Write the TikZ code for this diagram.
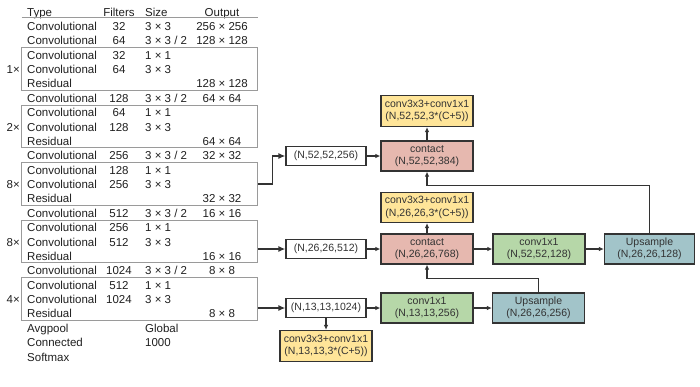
\documentclass[tikz,border=0pt]{standalone}
\usepackage{fontspec}
\setmainfont{Liberation Sans}
\usetikzlibrary{arrows.meta,calc}
\definecolor{ylw}{HTML}{FFE599}
\definecolor{pnk}{HTML}{E6B8AF}
\definecolor{grn}{HTML}{B6D7A8}
\definecolor{blu}{HTML}{A2C4C9}
\definecolor{ink}{HTML}{333333}
\definecolor{tgray}{HTML}{9A9A9A}
\newcommand\yrowy[1]{16+14.375*#1}
\newcommand\yrow[5]{%
  \node[tt,anchor=base west] (ty#1) at (27,{\yrowy{#1}}) {#2};
  \if\relax\detokenize{#3}\relax\else\node[tt,anchor=base] (tf#1) at (119,{\yrowy{#1}}) {#3};\fi
  \if\relax\detokenize{#4}\relax\else\node[tt,anchor=base west] (ts#1) at (145,{\yrowy{#1}}) {#4};\fi
  \if\relax\detokenize{#5}\relax\else\node[tt,anchor=base] (to#1) at (222,{\yrowy{#1}}) {#5};\fi
}
\begin{document}
\begin{tikzpicture}[x=1pt,y=-1pt,
  tt/.style={inner sep=0pt, font=\fontsize{11.5}{13}\selectfont, text=black!88},
  blk/.style={draw=ink, line width=1.2pt, minimum width=92pt, minimum height=30pt, inner sep=0pt, align=center, font=\fontsize{10.5}{12.5}\selectfont, text=ink},
  sml/.style={draw=ink, line width=1.2pt, fill=white, minimum width=80pt, minimum height=19pt, inner sep=0pt, font=\fontsize{10.5}{12.5}\selectfont, text=ink},
  tbox/.style={draw=tgray, line width=0.9pt, minimum width=236pt, minimum height=42.75pt, inner sep=0pt},
  arr/.style={draw=ink, line width=1.1pt, -{Latex[length=5pt,width=4.5pt]}},
  bigarr/.style={draw=ink, line width=1.4pt, -{Latex[length=7pt,width=6pt]}},
]
\useasboundingbox (0,0) rectangle (700,386);

% ---------- table ----------
\yrow{0}{Type}{Filters}{Size}{Output}
\draw[tgray, line width=0.8pt] (21.5,17.5) -- (257.5,17.5);
\yrow{1}{Convolutional}{32}{3 × 3}{256 × 256}
\yrow{2}{Convolutional}{64}{3 × 3 / 2}{128 × 128}
\yrow{3}{Convolutional}{32}{1 × 1}{}
\yrow{4}{Convolutional}{64}{3 × 3}{}
\yrow{5}{Residual}{}{}{128 × 128}
\yrow{6}{Convolutional}{128}{3 × 3 / 2}{64 × 64}
\yrow{7}{Convolutional}{64}{1 × 1}{}
\yrow{8}{Convolutional}{128}{3 × 3}{}
\yrow{9}{Residual}{}{}{64 × 64}
\yrow{10}{Convolutional}{256}{3 × 3 / 2}{32 × 32}
\yrow{11}{Convolutional}{128}{1 × 1}{}
\yrow{12}{Convolutional}{256}{3 × 3}{}
\yrow{13}{Residual}{}{}{32 × 32}
\yrow{14}{Convolutional}{512}{3 × 3 / 2}{16 × 16}
\yrow{15}{Convolutional}{256}{1 × 1}{}
\yrow{16}{Convolutional}{512}{3 × 3}{}
\yrow{17}{Residual}{}{}{16 × 16}
\yrow{18}{Convolutional}{1024}{3 × 3 / 2}{8 × 8}
\yrow{19}{Convolutional}{512}{1 × 1}{}
\yrow{20}{Convolutional}{1024}{3 × 3}{}
\yrow{21}{Residual}{}{}{8 × 8}
\yrow{22}{Avgpool}{}{Global}{}
\yrow{23}{Connected}{}{1000}{}
\yrow{24}{Softmax}{}{}{}

\node[tbox] (bx1) at (139.5,{12+14.375*4-0.5}) {};
\node[tbox] (bx2) at (139.5,{12+14.375*8-0.5}) {};
\node[tbox] (bx3) at (139.5,{12+14.375*12-0.5}) {};
\node[tbox] (bx4) at (139.5,{12+14.375*16-0.5}) {};
\node[tbox] (bx5) at (139.5,{12+14.375*20-0.5}) {};
\node[tt,anchor=base east] (m1) at (20,{\yrowy{4}}) {1×};
\node[tt,anchor=base east] (m2) at (20,{\yrowy{8}}) {2×};
\node[tt,anchor=base east] (m3) at (20,{\yrowy{12}}) {8×};
\node[tt,anchor=base east] (m4) at (20,{\yrowy{16}}) {8×};
\node[tt,anchor=base east] (m5) at (20,{\yrowy{20}}) {4×};

% ---------- right side ----------
\node[blk,fill=ylw,minimum height=31pt] (y1) at (427,111) {conv3x3+conv1x1\\(N,52,52,3*(C+5))};
\node[blk,fill=pnk] (c1) at (427,156) {contact\\(N,52,52,384)};
\node[sml] (n52) at (326,156) {(N,52,52,256)};
\node[blk,fill=ylw] (y2) at (427,207.5) {conv3x3+conv1x1\\(N,26,26,3*(C+5))};
\node[blk,fill=pnk] (c2) at (427,249) {contact\\(N,26,26,768)};
\node[sml] (n26) at (326,249) {(N,26,26,512)};
\node[blk,fill=grn] (g1) at (539,249) {conv1x1\\(N,52,52,128)};
\node[blk,fill=blu,minimum width=90pt] (u1) at (649.5,249) {Upsample\\(N,26,26,128)};
\node[sml] (n13) at (326,308) {(N,13,13,1024)};
\node[blk,fill=grn] (g2) at (427,308) {conv1x1\\(N,13,13,256)};
\node[blk,fill=blu] (u2) at (538.5,308) {Upsample\\(N,26,26,256)};
\node[blk,fill=ylw,minimum height=31pt] (y3) at (326,346) {conv3x3+conv1x1\\(N,13,13,3*(C+5))};

\draw[arr] (n52) -- (c1);
\draw[arr] (c1) -- (y1);
\draw[arr] (u1.north) -- ++(0,-48) -| (c1.south);
\draw[arr] (c2) -- (y2);
\draw[arr] (n26) -- (c2);
\draw[arr] (c2) -- (g1);
\draw[arr] (g1) -- (u1);
\draw[arr] (u2.north) -- ++(0,-14) -| (c2.south);
\draw[arr] (n13) -- (g2);
\draw[arr] (g2) -- (u2);
\draw[arr] (n13) -- (y3);

\draw[bigarr] (bx3.east) -- ++(14.5,0) |- (n52.west);
\draw[bigarr] (bx4.east |- n26.west) -- (n26.west);
\draw[bigarr] (bx5.east |- n13.west) -- (n13.west);
\end{tikzpicture}
\end{document}
